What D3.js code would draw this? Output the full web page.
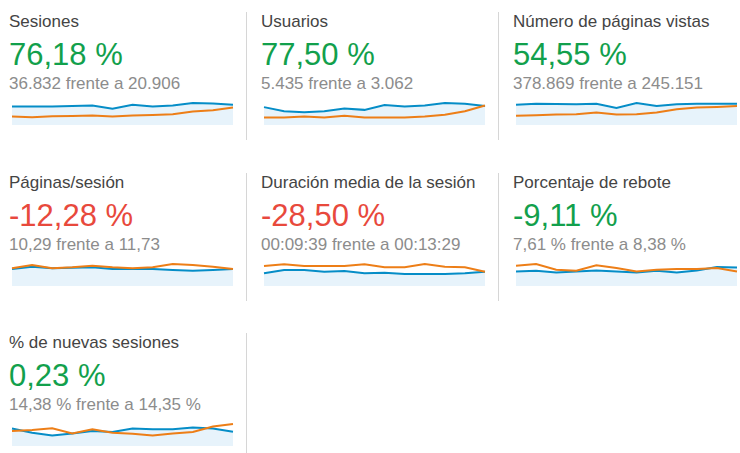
<!DOCTYPE html>
<html>
<head>
<meta charset="utf-8">
<script src="https://cdn.jsdelivr.net/npm/d3@7"></script>
<style>
  body { margin: 0; background: #fff; }
  svg { display: block; font-family: "Liberation Sans", Arial, sans-serif; }
</style>
</head>
<body>
<div id="chart"></div>
<script>
// metric cards
const titles = ["Sesiones", "Usuarios", "Número de páginas vistas", "Páginas/sesión",
                "Duración media de la sesión", "Porcentaje de rebote", "% de nuevas sesiones"];
const changes = ["76,18 %", "77,50 %", "54,55 %", "-12,28 %", "-28,50 %", "-9,11 %", "0,23 %"];
const comparisons = ["36.832 frente a 20.906", "5.435 frente a 3.062", "378.869 frente a 245.151",
                     "10,29 frente a 11,73", "00:09:39 frente a 00:13:29", "7,61 % frente a 8,38 %",
                     "14,38 % frente a 14,35 %"];
const favorable = [true, true, true, false, false, true, true];

// sparkline values (current period = blue, previous period = orange)
const sesionesActual = [2940, 2940, 2940, 3000, 3100, 2570, 3210, 2940, 3100, 3480, 3420, 3210];
const sesionesAnterior = [1340, 1230, 1390, 1440, 1500, 1340, 1500, 1600, 1710, 2140, 2350, 2780];
const usuariosActual = [463, 356, 329, 356, 427, 392, 516, 481, 507, 570, 552, 490];
const usuariosAnterior = [196, 196, 223, 196, 240, 196, 196, 196, 223, 267, 356, 507];
const paginasActual = [31170, 32680, 32170, 31670, 32680, 26140, 33680, 29160, 31670, 32680, 32680, 32680];
const paginasAnterior = [14080, 15080, 16090, 16590, 19100, 16090, 16590, 19100, 24130, 26640, 27650, 29160];
const paginasSesionActual = [10.17, 11.57, 10.57, 10.97, 11.17, 10.17, 10.17, 10.17, 9.57, 9.17, 9.57, 10.17];
const paginasSesionAnterior = [10.57, 12.56, 10.57, 11.17, 12.16, 11.17, 10.57, 11.17, 13.16, 12.56, 11.57, 10.17];
const duracionActual = [540, 682, 682, 611, 639, 540, 568, 511, 511, 511, 540, 611];
const duracionAnterior = [852, 923, 852, 852, 852, 923, 795, 795, 937, 824, 795, 611];
const reboteActual = [7.24, 7.58, 6.74, 7.24, 7.75, 7.24, 6.74, 7.58, 6.74, 7.75, 9.43, 9.26];
const reboteAnterior = [10.10, 10.94, 8.08, 7.58, 10.27, 8.92, 7.24, 8.08, 8.42, 8.42, 8.92, 7.24];
const nuevasActual = [16.38, 12.45, 9.83, 11.79, 14.09, 13.10, 16.38, 15.72, 15.72, 17.36, 16.38, 13.43];
const nuevasAnterior = [14.09, 15.07, 16.71, 11.79, 15.72, 12.45, 11.47, 9.83, 11.79, 13.10, 18.35, 20.64];

const actual = [sesionesActual, usuariosActual, paginasActual, paginasSesionActual,
                duracionActual, reboteActual, nuevasActual];
const anterior = [sesionesAnterior, usuariosAnterior, paginasAnterior, paginasSesionAnterior,
                  duracionAnterior, reboteAnterior, nuevasAnterior];

const WIDTH = 740;
const HEIGHT = 453;
const COL_X = [9, 261, 513];
const ROW_Y = [0, 161, 321];
const BLUE = "#058dc7";
const ORANGE = "#ed7e17";

const svg = d3.select("#chart")
              .append("svg")
              .attr("width", WIDTH)
              .attr("height", HEIGHT);

titles.forEach((title, i) => {
    const x0 = COL_X[i % 3];
    const y0 = ROW_Y[Math.floor(i / 3)];
    const g = svg.append("g");

    // divider on the right of the first two columns
    if (i % 3 < 2) {
        const dx = COL_X[i % 3 + 1] - 14.5;
        g.append("line")
         .attr("x1", dx).attr("x2", dx)
         .attr("y1", y0 + 12).attr("y2", y0 + 140)
         .attr("stroke", "#d6d6d6")
         .attr("stroke-width", 1);
    }

    g.append("text")
     .attr("x", x0)
     .attr("y", y0 + 27)
     .attr("font-size", 17)
     .attr("fill", "#444")
     .text(title);

    g.append("text")
     .attr("x", x0)
     .attr("y", y0 + 65)
     .attr("font-size", 31)
     .attr("fill", favorable[i] ? "#12a04c" : "#e8493c")
     .text(changes[i]);

    g.append("text")
     .attr("x", x0)
     .attr("y", y0 + 89)
     .attr("font-size", 17)
     .attr("fill", "#8c8c8c")
     .text(comparisons[i]);

    // sparkline
    const cur = actual[i];
    const prev = anterior[i];
    const xScale = d3.scaleLinear()
                     .domain([0, cur.length - 1])
                     .range([x0 + 3, x0 + 224]);
    const yScale = d3.scaleLinear()
                     .domain([0, d3.max(cur.concat(prev))])
                     .range([y0 + 125, y0 + 103]);

    const area = d3.area()
                   .x((d, j) => xScale(j))
                   .y0(yScale(0))
                   .y1((d) => yScale(d));
    const line = d3.line()
                   .x((d, j) => xScale(j))
                   .y((d) => yScale(d));

    g.append("path")
     .attr("d", area(cur))
     .attr("fill", "#e7f3fb");

    g.append("path")
     .attr("d", line(cur))
     .attr("fill", "none")
     .attr("stroke", BLUE)
     .attr("stroke-width", 2);

    g.append("path")
     .attr("d", line(prev))
     .attr("fill", "none")
     .attr("stroke", ORANGE)
     .attr("stroke-width", 2);
});
</script>
</body>
</html>
